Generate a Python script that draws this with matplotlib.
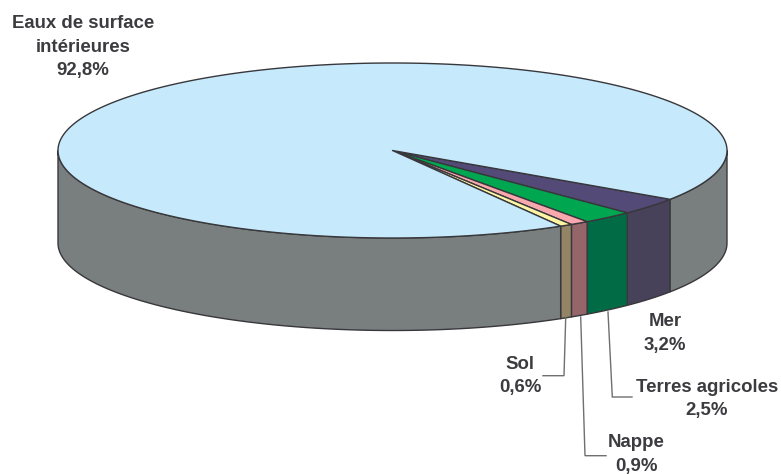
import matplotlib.pyplot as plt
import numpy as np
from matplotlib.patches import Polygon

plt.rcParams['font.family'] = ['Liberation Sans', 'DejaVu Sans']

# slices, clockwise from the start angle
names = ['Mer', 'Terres agricoles', 'Nappe', 'Sol', 'Eaux de surface\nintérieures']
values = [3.2, 2.5, 0.9, 0.6, 92.8]
value_labels = ['3,2%', '2,5%', '0,9%', '0,6%', '92,8%']
top_colors = ['#544a78', '#00a650', '#f9a9ae', '#fff5a3', '#c6e9fb']
side_colors = ['#47415a', '#006b45', '#94666a', '#948466', '#797e7e']

# label centres and leader lines, in pixels
label_pos = [(665, 333.5), (707, 399), (636, 454.5), (520, 376), (83, 47)]
leaders = [None,
           [(608, 312), (612.3, 397), (632, 397)],
           [(580.7, 317), (585, 455.7), (606, 455.7)],
           [(565.7, 318), (564, 375.7), (543, 375.7)],
           None]

cx, cy = 392.5, 150.5
rx, ry = 334.5, 87.5
depth = 92.5
start = 33.9
edge = '#38383c'

fig = plt.figure(figsize=(7.81, 4.74), dpi=100)
ax = fig.add_axes([0, 0, 1, 1])
ax.set_xlim(0, 781)
ax.set_ylim(474, 0)
ax.axis('off')


def rim(a, b):
    t = np.radians(np.linspace(a, b, max(int(abs(b - a) * 2), 2)))
    return cx + rx * np.cos(t), cy + ry * np.sin(t)


# side walls, then top
angle = start
spans = []
for v in values:
    spans.append((angle, angle + v * 3.6))
    angle += v * 3.6

for (a, b), c in zip(spans, side_colors):
    for k in (0, 360):
        lo, hi = max(a, k), min(b, k + 180)
        if lo >= hi:
            continue
        x, y = rim(lo, hi)
        pts = np.r_[np.c_[x, y], np.c_[x[::-1], y[::-1] + depth]]
        ax.add_patch(Polygon(pts, closed=True, fc=c, ec=edge, lw=1.0, joinstyle='round'))

for (a, b), c in zip(spans, top_colors):
    x, y = rim(a, b)
    pts = np.r_[[(cx, cy)], np.c_[x, y]]
    ax.add_patch(Polygon(pts, closed=True, fc=c, ec=edge, lw=1.0, joinstyle='round'))

for line in leaders:
    if line:
        xs, ys = zip(*line)
        ax.plot(xs, ys, color='#6f6f6f', lw=1.0, solid_joinstyle='miter')

for name, val, (x, y) in zip(names, value_labels, label_pos):
    ax.text(x, y, name + '\n' + val, ha='center', va='center', fontsize=13.4,
            fontweight='bold', color='#3c3c40', linespacing=1.52)

fig.savefig('out.png', dpi=100)
